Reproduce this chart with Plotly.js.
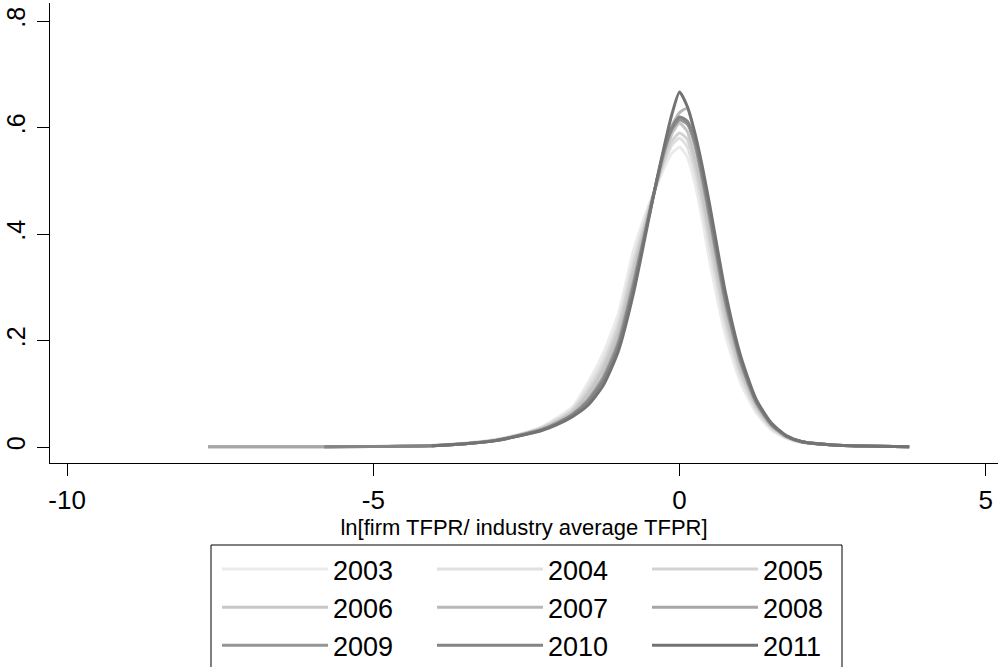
<!DOCTYPE html>
<html>
<head>
<meta charset="utf-8">
<script src="https://cdn.plot.ly/plotly-3.0.1.min.js"></script>
<style>
  html, body { margin: 0; padding: 0; background: #fff; }
  #chart { width: 998px; height: 667px; }
</style>
</head>
<body>
<div id="chart"></div>
<script>
// Kernel density of ln(firm TFPR / industry average TFPR), one curve per year.
const gridX = [-7.7, -6.5, -5.8, -5, -4.5, -4.05, -3.5, -3, -2.5, -2.25, -2, -1.75, -1.5, -1.25, -1,
  -0.75, -0.5, -0.375, -0.25, -0.125, 0, 0.125, 0.25, 0.375, 0.5, 0.75, 1, 1.25, 1.5, 1.75, 2,
  2.5, 3, 3.75];

const years = ['2003', '2004', '2005', '2006', '2007', '2008', '2009', '2010', '2011'];

const dens2003 = [null, null, 0.0005, 0.001, 0.002, 0.003, 0.007, 0.014, 0.028, 0.038, 0.055, 0.075, 0.12, 0.175, 0.25,
  0.37, 0.455, 0.49, 0.525, 0.552, 0.563, 0.545, 0.495, 0.425, 0.345, 0.21, 0.12, 0.065, 0.032, 0.016, 0.009,
  0.004, 0.002, 0.0005];
const dens2004 = [null, null, 0.0005, 0.001, 0.002, 0.003, 0.007, 0.014, 0.027, 0.037, 0.052, 0.071, 0.112, 0.163, 0.236,
  0.354, 0.45, 0.492, 0.533, 0.567, 0.58, 0.564, 0.514, 0.445, 0.366, 0.226, 0.13, 0.07, 0.035, 0.017, 0.009,
  0.004, 0.002, 0.0005];
const dens2005 = [0.0003, 0.0005, 0.0007, 0.001, 0.0015, 0.0025, 0.006, 0.013, 0.027, 0.036, 0.05, 0.069, 0.105, 0.154, 0.226,
  0.342, 0.446, 0.494, 0.539, 0.575, 0.59, 0.578, 0.528, 0.46, 0.382, 0.238, 0.138, 0.074, 0.037, 0.018, 0.009,
  0.004, 0.002, 0.0005];
const dens2006 = [null, null, 0.0005, 0.001, 0.0018, 0.0028, 0.0065, 0.013, 0.026, 0.035, 0.048, 0.066, 0.099, 0.145, 0.215,
  0.33, 0.443, 0.495, 0.545, 0.588, 0.608, 0.593, 0.543, 0.475, 0.398, 0.25, 0.145, 0.078, 0.039, 0.019, 0.0095,
  0.004, 0.002, 0.0005];
const dens2007 = [0.0003, 0.0005, 0.0007, 0.001, 0.0015, 0.0025, 0.0062, 0.0126, 0.025, 0.033, 0.046, 0.062, 0.09, 0.133, 0.201,
  0.314, 0.437, 0.497, 0.553, 0.603, 0.628, 0.636, 0.585, 0.5, 0.42, 0.266, 0.155, 0.083, 0.041, 0.02, 0.0097,
  0.004, 0.002, 0.0005];
const dens2008 = [0.0003, 0.0005, 0.0007, 0.001, 0.0015, 0.0024, 0.0062, 0.0125, 0.025, 0.033, 0.045, 0.061, 0.088, 0.13, 0.197,
  0.31, 0.436, 0.498, 0.555, 0.598, 0.617, 0.612, 0.567, 0.5, 0.424, 0.27, 0.158, 0.084, 0.042, 0.02, 0.0098,
  0.004, 0.002, 0.0005];
const dens2009 = [null, null, 0.0005, 0.001, 0.0015, 0.0022, 0.0062, 0.0124, 0.0248, 0.0324, 0.0444, 0.0606, 0.0864, 0.127, 0.194,
  0.306, 0.435, 0.498, 0.557, 0.596, 0.614, 0.607, 0.571, 0.505, 0.429, 0.274, 0.16, 0.085, 0.042, 0.02, 0.0098,
  0.004, 0.002, 0.0005];
const dens2010 = [null, null, 0.0005, 0.001, 0.0015, 0.0022, 0.0062, 0.0123, 0.0246, 0.032, 0.044, 0.06, 0.084, 0.124, 0.19,
  0.302, 0.434, 0.499, 0.559, 0.6, 0.62, 0.612, 0.576, 0.51, 0.434, 0.278, 0.163, 0.086, 0.043, 0.02, 0.0099,
  0.004, 0.002, 0.0005];
const dens2011 = [null, null, null, null, null, 0.002, 0.006, 0.012, 0.024, 0.031, 0.042, 0.057, 0.078, 0.115, 0.18,
  0.29, 0.43, 0.5, 0.565, 0.625, 0.667, 0.64, 0.59, 0.525, 0.45, 0.29, 0.17, 0.09, 0.045, 0.021, 0.01,
  0.004, 0.002, 0.0005];

const densities = [dens2003, dens2004, dens2005, dens2006, dens2007, dens2008, dens2009, dens2010, dens2011];
const lineColors = ['#ebebeb', '#e0e0e0', '#d3d3d3', '#c6c6c6', '#b8b8b8', '#a6a6a6', '#959595', '#848484', '#737373'];

const yTickVals = [0, 0.2, 0.4, 0.6, 0.8];
const yTickText = ['0', '.2', '.4', '.6', '.8'];
const xTickVals = [-10, -5, 0, 5];
const xTickText = ['-10', '-5', '0', '5'];

// Three legend columns, filled row by row: 2003 2004 2005 / 2006 2007 2008 / 2009 2010 2011
const legendIds = ['legend', 'legend2', 'legend3'];

const traces = years.map((yr, i) => ({
  type: 'scatter',
  mode: 'lines',
  name: yr,
  x: gridX,
  y: densities[i],
  connectgaps: false,
  legend: legendIds[i % 3],
  line: { color: lineColors[i], width: 3, shape: 'spline', smoothing: 0.6 },
  hoverinfo: 'skip'
}));

const font = 'Liberation Sans, Arial, Helvetica, sans-serif';

// plot area: left 50px, width 948px, top 3px, height 460px
const plotL = 50, plotW = 948, plotB = 463, plotH = 460;
const px2x = (px) => (px - plotL) / plotW;
const px2y = (py) => (plotB - py) / plotH;

function legendColumn(leftPx) {
  return {
    orientation: 'v',
    x: px2x(leftPx),
    xanchor: 'left',
    y: px2y(545),
    yanchor: 'top',
    bgcolor: 'rgba(0,0,0,0)',
    borderwidth: 0,
    font: { size: 27, family: font },
    itemwidth: 106,
    tracegroupgap: 0,
    traceorder: 'normal',
    itemclick: false,
    itemdoubleclick: false
  };
}

const layout = {
  width: 998,
  height: 667,
  margin: { l: plotL, r: 998 - plotL - plotW, t: 3, b: 667 - plotB, pad: 0, autoexpand: false },
  paper_bgcolor: '#ffffff',
  plot_bgcolor: '#ffffff',
  font: { family: font, color: '#000000' },
  showlegend: true,
  xaxis: {
    range: [-10.28, 5.2],
    tickvals: xTickVals,
    ticktext: xTickText,
    ticks: 'outside',
    ticklen: 12,
    tickwidth: 1,
    tickcolor: '#000',
    ticklabelstandoff: 2,
    showline: true,
    linecolor: '#000',
    linewidth: 1,
    showgrid: false,
    zeroline: false,
    tickfont: { size: 26, family: font },
    title: { text: 'ln[firm TFPR/ industry average TFPR]', font: { size: 22, family: font }, standoff: 0 }
  },
  yaxis: {
    range: [-0.030, 0.834],
    tickvals: yTickVals,
    ticktext: yTickText,
    tickangle: -90,
    ticks: 'outside',
    ticklen: 12,
    tickwidth: 1,
    tickcolor: '#000',
    ticklabelstandoff: 2,
    showline: true,
    linecolor: '#000',
    linewidth: 1,
    showgrid: false,
    zeroline: false,
    tickfont: { size: 25, family: font }
  },
  legend: legendColumn(217),
  legend2: legendColumn(432),
  legend3: legendColumn(647),
  shapes: [{
    type: 'rect',
    xref: 'paper', yref: 'paper',
    x0: px2x(211), x1: px2x(842),
    y0: px2y(545), y1: px2y(690),
    line: { color: '#000000', width: 1 },
    fillcolor: 'rgba(0,0,0,0)',
    layer: 'above'
  }]
};

Plotly.newPlot('chart', traces, layout, { staticPlot: true, displayModeBar: false });
</script>
</body>
</html>
